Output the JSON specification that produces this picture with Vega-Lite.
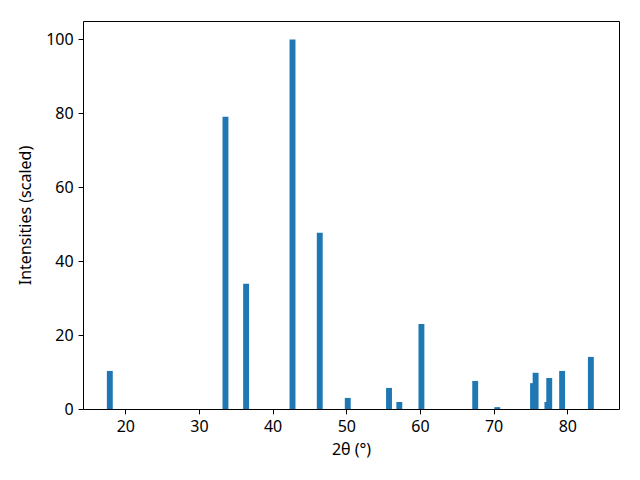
{
  "$schema": "https://vega.github.io/schema/vega-lite/v6.json",
  "width": 536,
  "height": 388,
  "autosize": {"type": "none"},
  "padding": {"left": 83, "top": 21, "right": 21, "bottom": 71},
  "background": "white",
  "config": {
    "view": {"stroke": "black", "strokeWidth": 1},
    "font": "Noto Sans",
    "axis": {
      "labelFont": "Noto Sans",
      "titleFont": "Noto Sans",
      "labelFontSize": 16,
      "titleFontSize": 16,
      "titleFontWeight": "normal",
      "labelColor": "black",
      "titleColor": "black",
      "tickColor": "black",
      "domainColor": "black",
      "tickSize": 4.9,
      "labelPadding": 5,
      "grid": false
    }
  },
  "data": {
    "values": [
      {"two_theta": 17.9, "intensity": 10.3},
      {"two_theta": 33.6, "intensity": 79.1},
      {"two_theta": 36.4, "intensity": 33.9},
      {"two_theta": 42.7, "intensity": 100},
      {"two_theta": 46.4, "intensity": 47.7},
      {"two_theta": 50.2, "intensity": 3.0},
      {"two_theta": 55.8, "intensity": 5.7},
      {"two_theta": 57.2, "intensity": 1.9},
      {"two_theta": 60.2, "intensity": 23.0},
      {"two_theta": 67.5, "intensity": 7.6},
      {"two_theta": 70.5, "intensity": 0.5},
      {"two_theta": 75.35, "intensity": 7.0},
      {"two_theta": 75.7, "intensity": 9.8},
      {"two_theta": 77.3, "intensity": 1.9},
      {"two_theta": 77.55, "intensity": 8.4},
      {"two_theta": 79.3, "intensity": 10.3},
      {"two_theta": 83.2, "intensity": 14.1}
    ]
  },
  "mark": {"type": "bar", "color": "#1f77b4", "size": 5.9, "orient": "vertical"},
  "encoding": {
    "x": {
      "field": "two_theta",
      "type": "quantitative",
      "scale": {"domain": [14.26, 87.02], "nice": false, "zero": false, "padding": 0},
      "axis": {"values": [20, 30, 40, 50, 60, 70, 80], "title": "2θ (°)", "titlePadding": 7, "domain": false}
    },
    "y": {
      "field": "intensity",
      "type": "quantitative",
      "scale": {"domain": [0, 105], "nice": false, "padding": 0},
      "axis": {"values": [0, 20, 40, 60, 80, 100], "title": "Intensities (scaled)", "titlePadding": 12, "domain": false}
    }
  }
}
